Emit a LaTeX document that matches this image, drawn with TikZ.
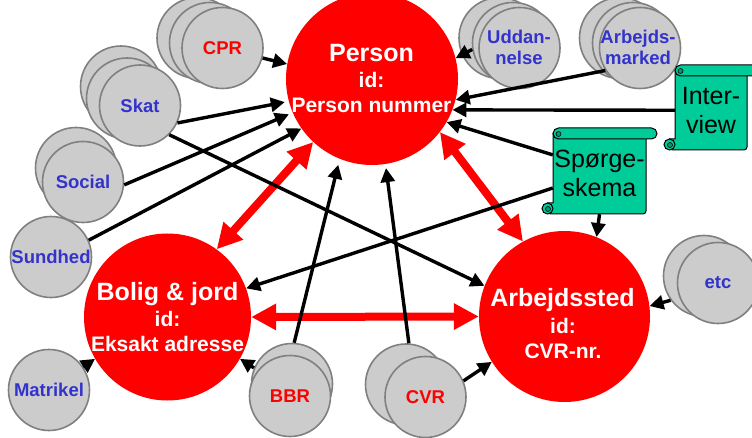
\documentclass[tikz,border=0pt]{standalone}
\usepackage{fontspec}
\setmainfont{Liberation Sans}
\usetikzlibrary{arrows.meta}
\definecolor{redc}{HTML}{FF0000}
\definecolor{greyfill}{HTML}{CCCCCC}
\definecolor{greyline}{HTML}{808080}
\definecolor{bluet}{HTML}{3333CC}
\definecolor{greenc}{HTML}{00CC99}
\definecolor{greendark}{HTML}{009973}
\tikzset{
  disk/.style={circle, draw=greyline, line width=1.6pt, fill=greyfill, minimum size=81pt, inner sep=0pt},
  bigc/.style={circle, fill=redc, inner sep=0pt},
  lbl/.style={font=\bfseries\fontsize{18.5}{21.5}\selectfont, align=center, inner sep=0pt},
  ttl/.style={text=white, font=\bfseries\fontsize{25}{30}\selectfont, anchor=base, inner sep=0pt},
  idt/.style={text=white, font=\bfseries\fontsize{21}{25}\selectfont, anchor=base, inner sep=0pt},
  arr/.style={draw=black, line width=3.4pt, -{Triangle[length=14pt,width=14pt]}},
  rarr/.style={draw=redc, line width=8pt, {Triangle[length=25pt,width=25pt]}-{Triangle[length=25pt,width=25pt]}},
  scrl/.style={draw=black, line width=1pt, fill=greenc},
  scrltxt/.style={inner sep=0pt, align=center, font=\fontsize{25}{29}\selectfont, text=black}
}
\newcommand\myscroll[6]{%
  \filldraw[scrl] ({#2},{#3+5.5}) -- ({#4},{#3+5.5}) [rounded corners=3pt] -- ({#4},{#5}) -- ({#2-5.5},{#5}) [sharp corners] -- ({#2-5.5},{#5-11}) -- ({#2},{#5-11}) -- cycle;
  \filldraw[scrl] ({#2-5.5},{#5-5.5}) circle (5.5);
  \filldraw[scrl, fill=greendark, line width=0.6pt] ({#2-5},{#5-5}) circle (2.5);
  \filldraw[scrl, rounded corners=5.5pt] ({#2},{#3}) rectangle ({#4+11},{#3+11});
  \filldraw[scrl, fill=greendark, line width=0.6pt] ({#2+5.5},{#3+6}) circle (2.5);
  \node[scrltxt, minimum width={#4-#2}, minimum height={#5-#3-5.5}] (#1) at ({(#2+#4)/2},{(#3+5.5+#5)/2}) {#6};
}
\begin{document}
\begin{tikzpicture}[x=1pt, y=-1pt]
\useasboundingbox (0,0) rectangle (752,438);
% back circles
\node[disk] (cprC) at (197.5,38) {};
\node[disk] (cprB) at (210,43) {};
\node[disk] (skatC) at (121,86.5) {};
\node[disk] (skatB) at (127,98.5) {};
\node[disk] (socialB) at (76,168) {};
\node[disk] (bbrB) at (292,384) {};
\node[disk] (cvrB) at (406,384.5) {};
\node[disk] (etcB) at (704,276) {};
\node[disk] (udC) at (499.5,38) {};
\node[disk] (udB) at (513,43) {};
\node[disk] (amC) at (620,38) {};
\node[disk] (amB) at (633,43) {};
% front circles
\node[disk] (cpr) at (222.5,48) {};
\node[disk] (skat) at (140,105.5) {};
\node[disk] (social) at (83,182) {};
\node[disk] (sundhed) at (51,257) {};
\node[disk] (matrikel) at (49,390) {};
\node[disk] (bbr) at (290,396) {};
\node[disk] (cvr) at (425.5,397) {};
\node[disk] (etc) at (718,283) {};
\node[disk] (ud) at (519.5,48) {};
\node[disk] (am) at (640,48) {};
% labels
\node[lbl, text=redc] (cprL) at (cpr) {CPR};
\node[lbl, text=bluet] (skatL) at (skat) {Skat};
\node[lbl, text=bluet] (socialL) at (social) {Social};
\node[lbl, text=bluet] (sundhedL) at (sundhed) {Sundhed};
\node[lbl, text=bluet] (matrikelL) at (matrikel) {Matrikel};
\node[lbl, text=redc] (bbrL) at (bbr) {BBR};
\node[lbl, text=redc] (cvrL) at (cvr) {CVR};
\node[lbl, text=bluet] (etcL) at (etc) {etc};
\node[lbl, text=bluet] (udL) at (519,47.5) {Uddan-\\nelse};
\node[lbl, text=bluet] (amL) at (638,47.5) {Arbejds-\\marked};
% big circles
\node[bigc, minimum size=172pt] (person) at (372,79) {};
\node[bigc, minimum size=167pt] (bolig) at (167.5,317) {};
\node[bigc, minimum size=171pt] (arb) at (564.5,316.5) {};
\node[ttl] (personT) at (371.5,62) {Person};
\node[idt] (personI) at (371.5,88) {id:};
\node[idt] (personN) at (371.5,113) {Person nummer};
\node[ttl] (boligT) at (167.5,300) {Bolig \& jord};
\node[idt] (boligI) at (167.5,326) {id:};
\node[idt] (boligN) at (167.5,351) {Eksakt adresse};
\node[ttl] (arbT) at (562.5,306) {Arbejdssted};
\node[idt] (arbI) at (563,333) {id:};
\node[idt] (arbN) at (563,358) {CVR-nr.};
% scrolls
\myscroll{interview}{675}{65}{747}{150}{Inter-\\view}
\myscroll{sporge}{553}{128}{646}{214}{Spørge-\\skema}
% red arrows
\draw[rarr] (person.227) -- (bolig.54);
\draw[rarr] (person.-38) -- (arb.119);
\draw[rarr] (bolig.east) -- (arb.west);
% black arrows
\draw[arr] (cpr.-14) -- (person.170);
\draw[arr, shorten >=4pt] (skat.-25) -- (person.195);
\draw[arr, shorten >=4pt] (social.-4) -- (person.203);
\draw[arr] (sundhed.24) -- (person.215);
\draw[arr] (skat.-45) -- (arb.159);
\draw[arr] (sporge.197) -- (bolig.20);
\draw[arr] (sporge.south) -- (arb.68);
\draw[arr] (sporge.158) -- (person.-30);
\draw[arr] (interview.west) -- (person.-21);
\draw[arr] (am.213) -- (person.-14);
\draw[arr] (udB.189) -- (person.14);
\draw[arr, shorten >=6pt] (bbrB.87) -- (person.248);
\draw[arr, shorten >=4pt] (cvrB.86) -- (person.279);
\draw[arr] (bbrB.157) -- (bolig.-30);
\draw[arr] (matrikel.34) -- (bolig.210);
\draw[arr] (cvr.23) -- (arb.212);
\draw[arr] (etcB.216) -- (arb.7);
\end{tikzpicture}
\end{document}
